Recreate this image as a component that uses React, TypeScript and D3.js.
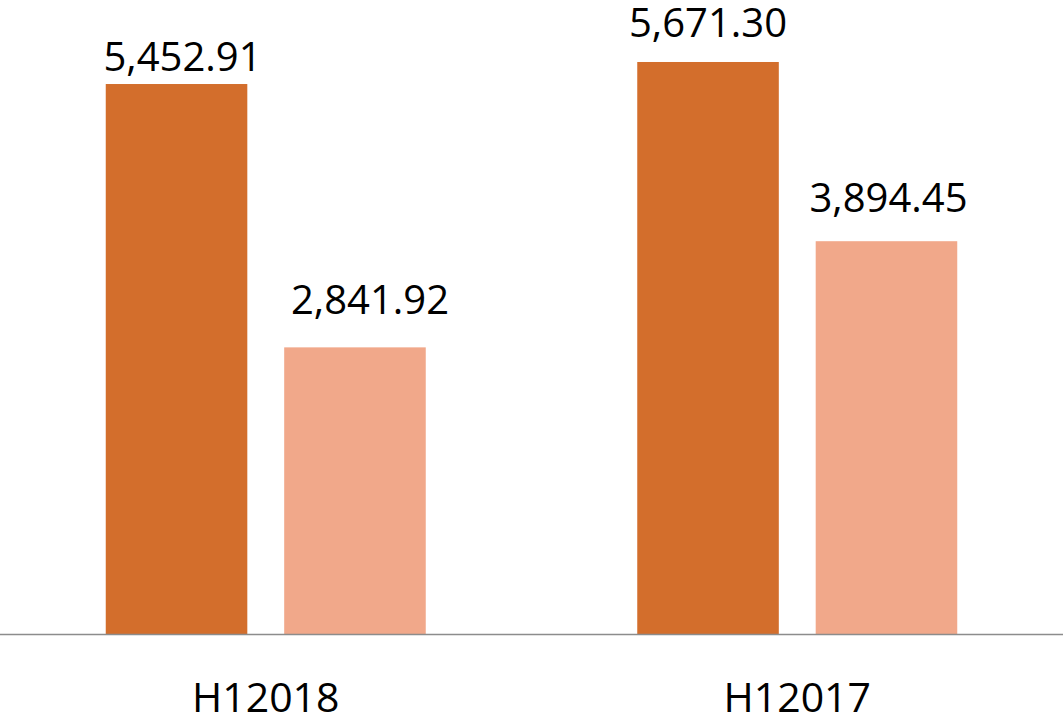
import React from "react";
import * as d3 from "d3";

const categories = ["H12018", "H12017"];
const seriesNames = ["Series A", "Series B"];
const seriesA = [5452.91, 5671.3];
const seriesB = [2841.92, 3894.45];
const valueLabels = [
  ["5,452.91", "2,841.92"],
  ["5,671.30", "3,894.45"],
];
// small per-label nudges (dx, dy gap above bar)
const labelNudgeX = [
  [6, 15],
  [0, 2],
];
const labelGap = [
  [13, 33],
  [25, 29],
];

const W = 1063;
const H = 716;
const baseY = 634;
const colors = ["#D36E2C", "#F1A88A"];
const FONT = "'Open Sans', 'Liberation Sans', sans-serif";

export default function App() {
  const x0 = d3.scaleBand<string>().domain(categories).range([0, W]).paddingInner(0).paddingOuter(0);
  const groupInner = 320;
  const x1 = d3
    .scaleBand<string>()
    .domain(seriesNames)
    .range([(x0.bandwidth() - groupInner) / 2, (x0.bandwidth() + groupInner) / 2])
    .paddingInner(37 / 179)
    .paddingOuter(0);
  const y = d3.scaleLinear().domain([0, 6000]).range([baseY, baseY - 6000 * 0.10086]);

  const seriesValues = [seriesA, seriesB];

  return (
    <div style={{ position: "fixed", left: 0, top: 0, width: W, height: H, background: "#fff" }}>
      <svg width={W} height={H} style={{ display: "block" }}>
        {categories.map((cat, ci) => (
          <g key={cat} transform={`translate(${x0(cat)},0)`}>
            {seriesNames.map((s, si) => {
              const v = seriesValues[si][ci];
              const bx = x1(s)!;
              const bw = x1.bandwidth();
              return (
                <g key={s}>
                  <rect x={bx} y={y(v)} width={bw} height={baseY - y(v)} fill={colors[si]} />
                  <text
                    x={bx + bw / 2 + labelNudgeX[ci][si]}
                    y={y(v) - labelGap[ci][si]}
                    textAnchor="middle"
                    fontFamily={FONT}
                    fontSize={40}
                    fill="#000"
                  >
                    {valueLabels[ci][si]}
                  </text>
                </g>
              );
            })}
            <text
              x={x0.bandwidth() / 2}
              y={712}
              textAnchor="middle"
              fontFamily={FONT}
              fontSize={41}
              fill="#000"
            >
              {cat}
            </text>
          </g>
        ))}
        <line x1={0} x2={W} y1={baseY + 0.5} y2={baseY + 0.5} stroke="#8C8C8C" strokeWidth={1.5} />
      </svg>
    </div>
  );
}
